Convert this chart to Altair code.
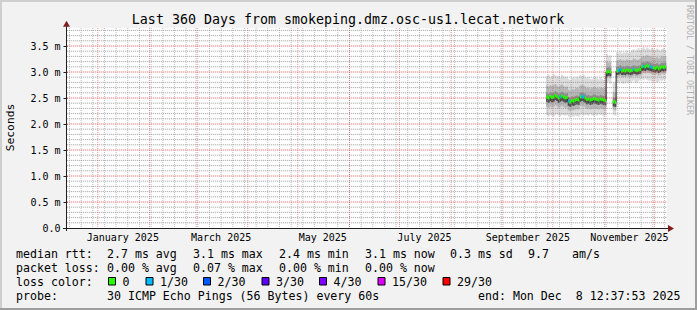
import altair as alt
import pandas as pd

MONO = "DejaVu Sans Mono"

# ---------------- values ----------------
title_text = "Last 360 Days from smokeping.dmz.osc-us1.lecat.network"
y_title = "Seconds"
watermark = "RRDTOOL / TOBI OETIKER"

range_start = "2024-12-13T12:37:53Z"
range_end = "2025-12-08T12:37:53Z"
first_day = "2025-09-27"  # first daily sample (UTC)

median_ms = [
    2.52, 2.50, 2.53, 2.51,                                            # Sep 27-30
    2.52, 2.55, 2.53, 2.50, 2.52, 2.54, 2.52, 2.50, 2.51,              # Oct 1-9
    2.44, 2.42, 2.45, 2.44, 2.46, 2.47, 2.46,                          # Oct 10-16
    2.52, 2.53, 2.52, 2.50,                                            # Oct 17-20
    2.47, 2.48, 2.46, 2.47, 2.49, 2.48, 2.47, 2.46, 2.48, 2.47, 2.46,  # Oct 21-31
    2.45,                                                              # Nov 1
    3.00, 3.01, 3.00,                                                  # Nov 2-4
    None,                                                              # Nov 5
    2.43, 2.42,                                                        # Nov 6-7
    3.02, 3.03, 3.05, 3.02, 3.03, 3.02, 3.04, 3.03, 3.02, 3.03, 3.05, 3.04, 3.03, 3.04, 3.05,  # Nov 8-22
    3.10, 3.11, 3.10, 3.12, 3.11, 3.10, 3.09, 3.08,                    # Nov 23-30
    3.07, 3.09, 3.06, 3.08, 3.10, 3.09, 3.10,                          # Dec 1-7
]

lost_pings = [
    0, 0, 0, 0,
    0, 0, 0, 0, 1, 0, 0, 0, 0,
    1, 0, 0, 0, 0, 0, 0,
    0, 1, 1, 0,
    0, 0, 0, 0, 0, 0, 0, 0, 0, 0, 0,
    0,
    0, 0, 0,
    0,
    0, 0,
    0, 1, 1, 0, 0, 0, 0, 0, 0, 0, 1, 0, 0, 0, 0,
    0, 1, 0, 0, 0, 1, 1, 0,
    0, 0, 0, 0, 0, 0, 0,
]

smoke_top = [
    2.93, 2.95, 2.90, 2.92,
    2.96, 2.94, 2.91, 2.93, 2.89, 2.95, 2.92, 2.90, 2.91,
    2.86, 2.85, 2.88, 2.90, 2.87, 2.91, 2.89,
    2.94, 2.92, 2.95, 2.90,
    2.88, 2.90, 2.87, 2.86, 2.89, 2.91, 2.88, 2.86, 2.90, 2.87, 2.85,
    2.92,
    3.34, 3.30, 3.32,
    None,
    2.80, 2.78,
    3.38, 3.36, 3.40, 3.35, 3.38, 3.37, 3.41, 3.36, 3.38, 3.42, 3.44, 3.40, 3.43, 3.46, 3.42,
    3.45, 3.48, 3.44, 3.47, 3.45, 3.43, 3.46, 3.44,
    3.42, 3.45, 3.43, 3.41, 3.44, 3.46, 3.43,
]

smoke_bottom = [
    2.17, 2.15, 2.18, 2.16,
    2.14, 2.17, 2.19, 2.16, 2.15, 2.18, 2.17, 2.16, 2.18,
    2.14, 2.12, 2.15, 2.14, 2.16, 2.15, 2.14,
    2.17, 2.19, 2.16, 2.18,
    2.18, 2.16, 2.19, 2.17, 2.15, 2.18, 2.16, 2.19, 2.17, 2.18, 2.16,
    2.17,
    2.80, 2.82, 2.78,
    None,
    2.18, 2.16,
    2.80, 2.78, 2.82, 2.79, 2.77, 2.80, 2.81, 2.78, 2.79, 2.82, 2.84, 2.81, 2.80, 2.83, 2.85,
    2.86, 2.84, 2.87, 2.85, 2.83, 2.84, 2.82, 2.81,
    2.83, 2.80, 2.82, 2.84, 2.83, 2.85, 2.84,
]

smoke_mid_hi = [
    2.74, 2.72, 2.75, 2.73,
    2.75, 2.77, 2.74, 2.71, 2.74, 2.76, 2.73, 2.71, 2.72,
    2.66, 2.64, 2.67, 2.66, 2.68, 2.69, 2.68,
    2.74, 2.75, 2.74, 2.72,
    2.69, 2.70, 2.68, 2.69, 2.71, 2.70, 2.69, 2.68, 2.70, 2.69, 2.68,
    2.70,
    3.20, 3.18, 3.19,
    None,
    2.62, 2.60,
    3.22, 3.23, 3.25, 3.22, 3.23, 3.22, 3.24, 3.23, 3.22, 3.23, 3.26, 3.25, 3.23, 3.24, 3.26,
    3.30, 3.31, 3.30, 3.32, 3.31, 3.30, 3.29, 3.28,
    3.27, 3.29, 3.26, 3.28, 3.30, 3.29, 3.30,
]

smoke_mid_lo = [
    2.33, 2.31, 2.34, 2.32,
    2.33, 2.36, 2.34, 2.31, 2.33, 2.35, 2.33, 2.31, 2.32,
    2.26, 2.24, 2.27, 2.26, 2.28, 2.29, 2.28,
    2.34, 2.35, 2.34, 2.32,
    2.29, 2.30, 2.28, 2.29, 2.31, 2.30, 2.29, 2.28, 2.30, 2.29, 2.28,
    2.28,
    2.88, 2.90, 2.88,
    None,
    2.28, 2.26,
    2.90, 2.91, 2.93, 2.90, 2.91, 2.90, 2.92, 2.91, 2.90, 2.91, 2.93, 2.92, 2.91, 2.92, 2.93,
    2.97, 2.98, 2.97, 2.99, 2.98, 2.97, 2.96, 2.95,
    2.94, 2.96, 2.93, 2.95, 2.97, 2.96, 2.97,
]

smoke_core_hi = [
    2.60, 2.58, 2.61, 2.59,
    2.60, 2.63, 2.61, 2.58, 2.60, 2.62, 2.60, 2.58, 2.59,
    2.52, 2.50, 2.53, 2.52, 2.54, 2.55, 2.54,
    2.60, 2.61, 2.60, 2.58,
    2.55, 2.56, 2.54, 2.55, 2.57, 2.56, 2.55, 2.54, 2.56, 2.55, 2.54,
    2.55,
    3.08, 3.09, 3.08,
    None,
    2.51, 2.50,
    3.10, 3.11, 3.13, 3.10, 3.11, 3.10, 3.12, 3.11, 3.10, 3.11, 3.13, 3.12, 3.11, 3.12, 3.13,
    3.18, 3.19, 3.18, 3.20, 3.19, 3.18, 3.17, 3.16,
    3.15, 3.17, 3.14, 3.16, 3.18, 3.17, 3.18,
]

smoke_core_lo = [
    2.43, 2.41, 2.44, 2.42,
    2.43, 2.46, 2.44, 2.41, 2.43, 2.45, 2.43, 2.41, 2.42,
    2.35, 2.33, 2.36, 2.35, 2.37, 2.38, 2.37,
    2.43, 2.44, 2.43, 2.41,
    2.38, 2.39, 2.37, 2.38, 2.40, 2.39, 2.38, 2.37, 2.39, 2.38, 2.37,
    2.36,
    2.92, 2.93, 2.92,
    None,
    2.34, 2.33,
    2.94, 2.95, 2.97, 2.94, 2.95, 2.94, 2.96, 2.95, 2.94, 2.95, 2.97, 2.96, 2.95, 2.96, 2.97,
    3.02, 3.03, 3.02, 3.04, 3.03, 3.02, 3.01, 3.00,
    2.99, 3.01, 2.98, 3.00, 3.02, 3.01, 3.02,
]

y_tick_values = [0.0, 0.5, 1.0, 1.5, 2.0, 2.5, 3.0, 3.5]
month_labels = ["January 2025", "March 2025", "May 2025", "July 2025",
                "September 2025", "November 2025"]
month_label_days = ["2025-01-16", "2025-03-16", "2025-05-16", "2025-07-16",
                    "2025-09-16", "2025-11-16"]

loss_labels = ["0", "1/30", "2/30", "3/30", "4/30", "15/30", "29/30"]
loss_colors = ["#26ff00", "#00b8ff", "#0059ff", "#5e00ff", "#7e00ff", "#dd00ff", "#ff0000"]

rtt_label = "median rtt:"
rtt_stats = ["2.7 ms avg", "3.1 ms max", "2.4 ms min", "3.1 ms now", "0.3 ms sd"]
am_value, am_unit = "9.7", "am/s"
loss_label = "packet loss:"
loss_stats = ["0.00 % avg", "0.07 % max", "0.00 % min", "0.00 % now"]
color_label = "loss color:"
probe_label = "probe:"
probe_text = "30 ICMP Echo Pings (56 Bytes) every 60s"
end_text = "end: Mon Dec\u00a0\u00a08 12:37:53 2025"

# ---------------- layout (pixels of the 697x310 picture) ----------------
L, T = 67, 28          # plot origin
PW, PH = 600, 200      # plot size
Y_TOP = PH / 52.0      # 0.5 ms per 26 px

ISO = "%Y-%m-%dT%H:%M:%SZ"


def iso(idx):
    return pd.DatetimeIndex(idx).strftime(ISO)


xs = alt.Scale(type="utc", nice=False, domain=[
    alt.DateTime(year=2024, month=12, date=13, hours=12, minutes=37, seconds=53, utc=True),
    alt.DateTime(year=2025, month=12, date=8, hours=12, minutes=37, seconds=53, utc=True)])
ys = alt.Scale(domain=[0, Y_TOP], nice=False, zero=False)

# one shared y axis definition used by every layer
yaxis = alt.Axis(
    values=y_tick_values, title=None, grid=False, domain=False,
    labelExpr="datum.value == 0 ? '0.0' : format(datum.value, '.1f') + ' m'",
    labelFont=MONO, labelFontSize=10, labelColor="#000000", labelPadding=3,
    labelFlush=False, labelOverlap=False, tickSize=4, tickColor="#1f1f1f", tickWidth=1)


def Y(field):
    return alt.Y(field, scale=ys, axis=yaxis)


def X(field):
    return alt.X(field, scale=xs, axis=None)


days = pd.date_range(first_day, periods=len(median_ms), freq="D")
df = pd.DataFrame({
    "t": iso(days),
    "t_end": iso(days + pd.Timedelta(days=1)),
    "t_ov": iso(days + pd.Timedelta(hours=26)),
    "med": pd.to_numeric(pd.Series(median_ms), errors="coerce"),
    "top": pd.to_numeric(pd.Series(smoke_top), errors="coerce"),
    "bot": pd.to_numeric(pd.Series(smoke_bottom), errors="coerce"),
    "mhi": pd.to_numeric(pd.Series(smoke_mid_hi), errors="coerce"),
    "mlo": pd.to_numeric(pd.Series(smoke_mid_lo), errors="coerce"),
    "chi": pd.to_numeric(pd.Series(smoke_core_hi), errors="coerce"),
    "clo": pd.to_numeric(pd.Series(smoke_core_lo), errors="coerce"),
    "loss": [loss_labels[i] for i in lost_pings],
})
df["prev"] = df["med"].shift(1)

one = pd.DataFrame({"a": [0]})


def band(lo, hi, color):
    d = df.dropna(subset=[lo, hi])
    return alt.Chart(d).mark_rect(color=color, strokeWidth=0).encode(
        x=X("t:T"), x2="t_ov:T", y=Y(f"{lo}:Q"), y2=f"{hi}:Q")


def txt(s, px, py, size=11.6, align="left", baseline="alphabetic", color="#000000", angle=0):
    return alt.Chart(one).mark_text(
        font=MONO, fontSize=size, align=align, baseline=baseline, color=color, angle=angle
    ).encode(x=alt.value(px - L), y=alt.value(py - T), text=alt.value(s))


def box(x1, x2, y1, y2, color, stroke=None):
    kw = dict(color=color)
    if stroke:
        kw.update(stroke=stroke, strokeWidth=1)
    return alt.Chart(one).mark_rect(**kw).encode(
        x=alt.value(x1 - L), x2=alt.value(x2 - L), y=alt.value(y1 - T), y2=alt.value(y2 - T))


layers = []

# smoke
layers.append(band("bot", "top", "#dadada"))
layers.append(band("mlo", "mhi", "#b5b5b5"))
layers.append(band("clo", "chi", "#8a8a8a"))
layers.append(band("clo", "med", "#4a4a4a"))

# grid (drawn over the smoke, like rrdtool)
week_df = pd.DataFrame({"t": iso(pd.date_range("2024-12-15", "2025-12-07", freq="7D"))})
month_df = pd.DataFrame({"t": iso(pd.date_range("2025-01-01", "2025-12-01", freq="MS"))})
minor_vals = [i / 10 for i in range(1, 39) if i % 5 != 0]
major_vals = y_tick_values[1:]


def hlines(vals):
    # two end points per horizontal grid line
    return pd.DataFrame({
        "gy": [v for v in vals for _ in (0, 1)],
        "gt": [t for _ in vals for t in (range_start, range_end)],
    })


minor_h = hlines(minor_vals)
major_h = hlines(major_vals)

minor_style = dict(color="#8f8f8f", strokeOpacity=0.6, strokeWidth=1, strokeDash=[1, 1])
major_style = dict(color="#de4f4f", strokeOpacity=0.55, strokeWidth=1, strokeDash=[1, 1])

# faint continuous underlay so the horizontal grid always shows
layers.append(alt.Chart(minor_h).mark_line(color="#8f8f8f", strokeOpacity=0.18, strokeWidth=1).encode(
    x=X("gt:T"), y=Y("gy:Q"), detail="gy:N"))
layers.append(alt.Chart(major_h).mark_line(color="#de4f4f", strokeOpacity=0.22, strokeWidth=1).encode(
    x=X("gt:T"), y=Y("gy:Q"), detail="gy:N"))

layers.append(alt.Chart(week_df).mark_rule(**minor_style).encode(
    x=X("t:T"), y=alt.value(0), y2=alt.value(PH)))
layers.append(alt.Chart(minor_h).mark_line(**minor_style).encode(
    x=X("gt:T"), y=Y("gy:Q"), detail="gy:N"))
layers.append(alt.Chart(month_df).mark_rule(**major_style).encode(
    x=X("t:T"), y=alt.value(0), y2=alt.value(PH)))
layers.append(alt.Chart(major_h).mark_line(**major_style).encode(
    x=X("gt:T"), y=Y("gy:Q"), detail="gy:N"))

# median: dark connectors then loss-coloured segments
conn = df.dropna(subset=["med", "prev"])
conn = conn[conn["med"] != conn["prev"]]
layers.append(alt.Chart(conn).mark_rule(color="#202020", strokeWidth=1).encode(
    x=X("t:T"), y=Y("prev:Q"), y2="med:Q"))
seg = df.dropna(subset=["med"])
layers.append(alt.Chart(seg).mark_rule(strokeWidth=3, strokeCap="butt").encode(
    x=X("t:T"), x2="t_end:T", y=Y("med:Q"), y2="med:Q",
    color=alt.Color("loss:N", scale=alt.Scale(domain=loss_labels, range=loss_colors), legend=None)))

# axes lines and arrows
layers.append(alt.Chart(one).mark_rule(color="#1f1f1f", strokeWidth=1).encode(
    x=alt.value(-0.5), y=alt.value(-6), y2=alt.value(PH + 3)))
layers.append(alt.Chart(one).mark_rule(color="#1f1f1f", strokeWidth=1).encode(
    x=alt.value(-4), x2=alt.value(PW + 2), y=alt.value(PH + 0.5)))
layers.append(alt.Chart(one).mark_point(shape="M0,-0.85L1,0.85L-1,0.85Z", filled=True, size=49,
                                        color="#801f1f", opacity=1).encode(
    x=alt.value(-0.5), y=alt.value(-4.2)))
layers.append(alt.Chart(one).mark_point(shape="M0.85,0L-0.85,-1L-0.85,1Z", filled=True, size=49,
                                        color="#801f1f", opacity=1).encode(
    x=alt.value(PW + 4), y=alt.value(PH + 0.5)))

# month labels
mlab = pd.DataFrame({"t": iso(pd.to_datetime(month_label_days)), "label": month_labels})
layers.append(alt.Chart(mlab).mark_text(font=MONO, fontSize=10, align="center", baseline="alphabetic",
                                        color="#000000").encode(
    x=X("t:T"), y=alt.value(240.7 - T), text="label:N"))

# title, axis title, watermark
layers.append(txt(title_text, 348, 24, size=13.3, align="center"))
layers.append(txt(y_title, 11, 127.5, size=11.3, align="center", baseline="middle", angle=270))
layers.append(txt(watermark, 688.5, 60, size=8.3, align="center", baseline="middle",
                  color="#b0b0b0", angle=90))

# legend
rows = [258.3, 272.2, 286.1, 300.0]
stat_x = [107, 193, 279, 365, 450]
layers.append(txt(rtt_label, 16, rows[0]))
for s, px in zip(rtt_stats, stat_x):
    layers.append(txt(s, px, rows[0]))
layers.append(txt(am_value, 528, rows[0]))
layers.append(txt(am_unit, 572, rows[0]))
layers.append(txt(loss_label, 16, rows[1]))
for s, px in zip(loss_stats, stat_x):
    layers.append(txt(s, px, rows[1]))
layers.append(txt(color_label, 16, rows[2]))
square_x = [108.5, 146, 203.5, 262, 319.5, 378, 443]
for lab, col, px in zip(loss_labels, loss_colors, square_x):
    layers.append(box(px, px + 7, 277.5, 285, col, stroke="#000000"))
    layers.append(txt(lab, px + 14, rows[2]))
layers.append(txt(probe_label, 16, rows[3]))
layers.append(txt(probe_text, 107, rows[3]))
layers.append(txt(end_text, 478, rows[3]))

# 3-D frame
W, H = 697, 310
layers.append(box(0, W, 0, 2, "#cfcfcf"))
layers.append(box(0, 2, 0, H, "#cfcfcf"))
layers.append(box(0, W, H - 2, H, "#9e9e9e"))
layers.append(box(W - 2, W, 0, H, "#9e9e9e"))

chart = alt.layer(*layers).properties(
    width=PW, height=PH, background="#f2f2f2",
    padding={"left": L, "top": T, "right": W - L - PW, "bottom": H - T - PH},
    autosize=alt.AutoSizeParams(type="none"),
).configure_view(fill="#ffffff", strokeWidth=0)

chart.save("out.html", embed_options={"renderer": "svg", "actions": False})
